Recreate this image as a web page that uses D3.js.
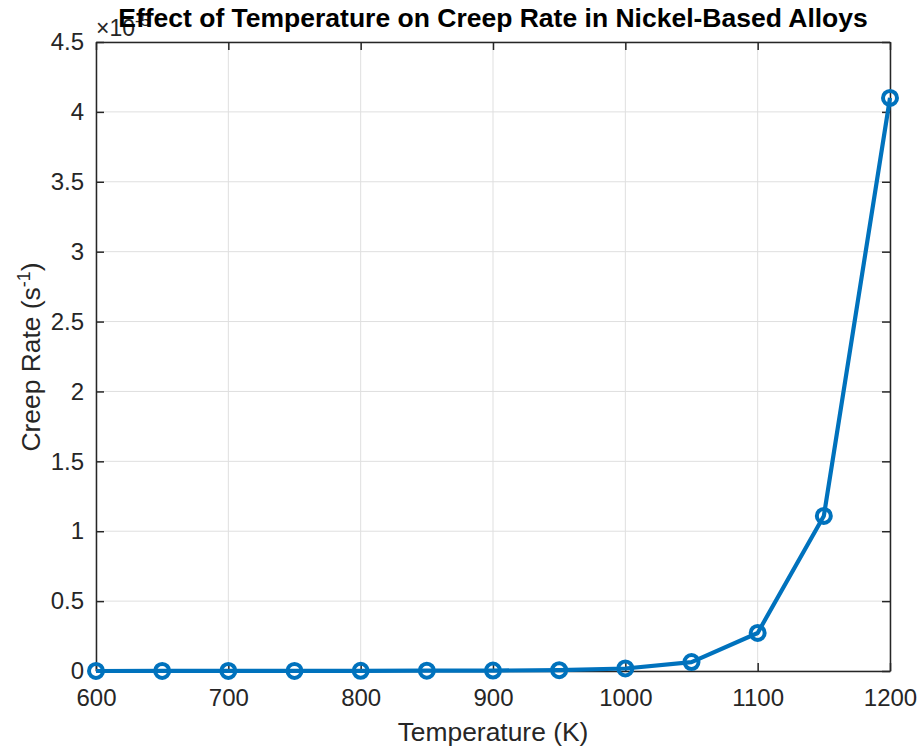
<!DOCTYPE html>
<html>
<head>
<meta charset="utf-8">
<script src="https://cdn.jsdelivr.net/npm/d3@7"></script>
<style>
  body { margin: 0; background: #fff; }
  svg { font-family: "Liberation Sans", Arial, sans-serif; }
</style>
</head>
<body>
<svg width="922" height="749"></svg>
<script>
// temperature (K) and creep rate (x 1e-5 s^-1)
var temps = [600, 650, 700, 750, 800, 850, 900, 950, 1000, 1050, 1100, 1150, 1200];
var rates = [0.0001, 0.0002, 0.0004, 0.0007, 0.0012, 0.002, 0.003, 0.006, 0.018, 0.064, 0.272, 1.109, 4.10];
var xTicks = [600, 700, 800, 900, 1000, 1100, 1200];
var yTicks = [0, 0.5, 1, 1.5, 2, 2.5, 3, 3.5, 4, 4.5];

var svg = d3.select("svg");
var pLeft = 96, pTop = 42, pRight = 890, pBottom = 671;

var xScale = d3.scaleLinear().domain([600, 1200]).range([pLeft, pRight]);
var yScale = d3.scaleLinear().domain([0, 4.5]).range([pBottom, pTop]);

// grid
var grid = svg.append("g");
grid.selectAll(".gx").data(xTicks).enter().append("line")
  .attr("x1", function(d) { return xScale(d); })
  .attr("x2", function(d) { return xScale(d); })
  .attr("y1", pTop).attr("y2", pBottom)
  .attr("stroke", "#dfdfdf").attr("stroke-width", 1);
grid.selectAll(".gy").data(yTicks).enter().append("line")
  .attr("y1", function(d) { return yScale(d); })
  .attr("y2", function(d) { return yScale(d); })
  .attr("x1", pLeft).attr("x2", pRight)
  .attr("stroke", "#dfdfdf").attr("stroke-width", 1);

// axes
var tickLen = 8;
var xAxis = d3.axisBottom(xScale).tickValues(xTicks).tickSizeInner(-tickLen).tickSizeOuter(0).tickPadding(12)
  .tickFormat(d3.format("d"));
var yAxis = d3.axisLeft(yScale).tickValues(yTicks).tickSizeInner(-tickLen).tickSizeOuter(0).tickPadding(12)
  .tickFormat(function(d) { return d; });
var xTop = d3.axisTop(xScale).tickValues(xTicks).tickSizeInner(-tickLen).tickSizeOuter(0).tickFormat("");
var yRight = d3.axisRight(yScale).tickValues(yTicks).tickSizeInner(-tickLen).tickSizeOuter(0).tickFormat("");

function style(g) {
  g.attr("font-size", null).attr("font-family", null);
  g.select(".domain").attr("stroke", "#262626").attr("stroke-width", 1.5);
  g.selectAll(".tick line").attr("stroke", "#262626").attr("stroke-width", 1.5);
  g.selectAll(".tick text").attr("fill", "#262626").style("font-size", "24px");
}

svg.append("g").attr("transform", "translate(0," + pBottom + ")").call(xAxis).call(style)
  .selectAll(".tick text").attr("dy", "0.95em");
svg.append("g").attr("transform", "translate(" + pLeft + ",0)").call(yAxis).call(style);
svg.append("g").attr("transform", "translate(0," + pTop + ")").call(xTop).call(style);
svg.append("g").attr("transform", "translate(" + pRight + ",0)").call(yRight).call(style);

// exponent label (title is drawn over it, as in the original)
var ex = svg.append("text").attr("x", pLeft).attr("y", 36)
  .attr("fill", "#262626").style("font-size", "23px");
ex.append("tspan").text("\u00d710");
ex.append("tspan").attr("dy", -10).style("font-size", "17px").text("-5");

// line and markers
var line = d3.line()
  .x(function(d, i) { return xScale(temps[i]); })
  .y(function(d) { return yScale(d); });

svg.append("path").datum(rates)
  .attr("d", line)
  .attr("fill", "none")
  .attr("stroke", "#0072BD")
  .attr("stroke-width", 4.2)
  .attr("stroke-linejoin", "round");

svg.selectAll(".pt").data(rates).enter().append("circle")
  .attr("cx", function(d, i) { return xScale(temps[i]); })
  .attr("cy", function(d) { return yScale(d); })
  .attr("r", 7)
  .attr("fill", "none")
  .attr("stroke", "#0072BD")
  .attr("stroke-width", 4);

// title
svg.append("text").attr("x", 493).attr("y", 27)
  .attr("text-anchor", "middle")
  .style("font-size", "26.5px").style("font-weight", "bold")
  .attr("fill", "#000")
  .text("Effect of Temperature on Creep Rate in Nickel-Based Alloys");

// axis labels
svg.append("text").attr("x", 493).attr("y", 741)
  .attr("text-anchor", "middle")
  .style("font-size", "26.4px").attr("fill", "#262626")
  .text("Temperature (K)");

var yl = svg.append("text")
  .attr("transform", "translate(40," + 357 + ") rotate(-90)")
  .attr("text-anchor", "middle")
  .style("font-size", "26.4px").attr("fill", "#262626");
yl.append("tspan").text("Creep Rate (s");
yl.append("tspan").attr("dy", -10).style("font-size", "18px").text("-1");
yl.append("tspan").attr("dy", 10).text(")");
</script>
</body>
</html>
